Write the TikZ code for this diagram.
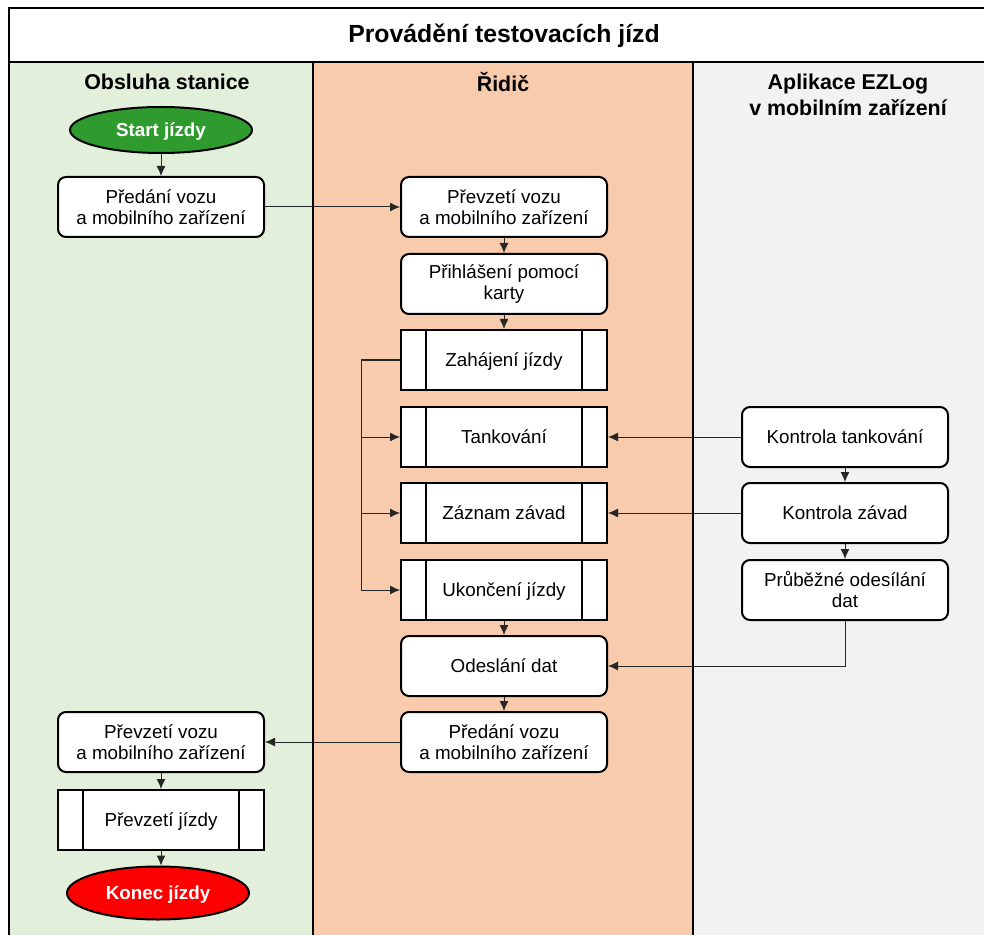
\documentclass[tikz,border=0pt]{standalone}
\usepackage{fontspec}
\setmainfont{Liberation Sans}
\usetikzlibrary{arrows.meta,shapes.geometric}
\definecolor{laneA}{HTML}{E2EFDA}
\definecolor{laneB}{HTML}{F8CBAD}
\definecolor{laneC}{HTML}{F2F2F2}
\definecolor{startgreen}{HTML}{2F9B2F}
\tikzset{
  box/.style={draw=black, line width=1pt, fill=white, rounded corners=4pt,
    minimum width=103pt, minimum height=30pt, align=center,
    font=\fontsize{9.4}{10.5}\selectfont},
  one/.style={text depth=0pt},
  subproc/.style={box, one, rounded corners=0pt},
  terminal/.style={ellipse, one, draw=black, line width=1pt, minimum width=91pt,
    minimum height=23pt, text=white, font=\bfseries\fontsize{9.4}{10.5}\selectfont},
  arr/.style={draw=black!85, line width=0.5pt, -{Latex[length=5pt,width=4.5pt]}},
  head/.style={font=\bfseries\fontsize{10.7}{13}\selectfont, align=center}
}
\begin{document}
\begin{tikzpicture}[x=0.5pt,y=-0.5pt]
\useasboundingbox (0,0) rectangle (984,935);
\begin{scope}
\clip (0,0) rectangle (984,935);
% swimlanes
\fill[laneA] (8.5,62) rectangle (313,1000);
\fill[laneB] (313,62) rectangle (693,1000);
\fill[laneC] (693,62) rectangle (1020,1000);
\draw[line width=1pt] (8.5,8.5) rectangle (1010,1000);
\draw[line width=1pt] (8.5,62) -- (1010,62);
\draw[line width=1pt] (313,62) -- (313,1000);
\draw[line width=1pt] (693,62) -- (693,1000);
\end{scope}
\node[font=\bfseries\fontsize{12.4}{15}\selectfont] (title) at (504,36) {Provádění testovacích jízd};
\node[head] (laneobs) at (167,82) {Obsluha stanice};
\node[head] (laneridic) at (503,82) {Řidič};
\node[head] (laneapp) at (848,95) {Aplikace EZLog\\v mobilním zařízení};

% obsluha stanice
\node[terminal, fill=startgreen] (start) at (161,130) {Start jízdy};
\node[box] (predani) at (161,207) {Předání vozu\\a mobilního zařízení};
\node[box] (prevzeti2) at (161,742) {Převzetí vozu\\a mobilního zařízení};
\node[subproc] (prevjizdy) at (161,820) {Převzetí jízdy};
\node[terminal, fill=red, minimum height=26.5pt] (konec) at (158,893) {Konec jízdy};

% ridic
\node[box] (prevzeti) at (504,207) {Převzetí vozu\\a mobilního zařízení};
\node[box] (prihlaseni) at (504,284) {Přihlášení pomocí\\karty};
\node[subproc] (zahajeni) at (504,360) {Zahájení jízdy};
\node[subproc] (tankovani) at (504,437) {Tankování};
\node[subproc] (zaznam) at (504,513) {Záznam závad};
\node[subproc] (ukonceni) at (504,590) {Ukončení jízdy};
\node[box, one] (odeslani) at (504,666) {Odeslání dat};
\node[box] (predani2) at (504,742) {Předání vozu\\a mobilního zařízení};

% aplikace
\node[box, one] (ktank) at (845,437) {Kontrola tankování};
\node[box, one] (kzavad) at (845,513) {Kontrola závad};
\node[box] (prubezne) at (845,590) {Průběžné odesílání\\dat};

% side bars of the subprocess boxes
\foreach \n in {zahajeni,tankovani,zaznam,ukonceni,prevjizdy}{
  \draw[line width=1pt] ([xshift=13pt]\n.north west) -- ([xshift=13pt]\n.south west);
  \draw[line width=1pt] ([xshift=-13pt]\n.north east) -- ([xshift=-13pt]\n.south east);
}

% connectors
\draw[arr] (start) -- (predani);
\draw[arr] (predani) -- (prevzeti);
\draw[arr] (prevzeti) -- (prihlaseni);
\draw[arr] (prihlaseni) -- (zahajeni);
\coordinate (bus) at ([xshift=-19.5pt]zahajeni.west);
\draw[arr] (zahajeni.west) -- (bus) |- (ukonceni.west);
\draw[arr] (bus |- tankovani.west) -- (tankovani.west);
\draw[arr] (bus |- zaznam.west) -- (zaznam.west);
\draw[arr] (ukonceni) -- (odeslani);
\draw[arr] (odeslani) -- (predani2);
\draw[arr] (ktank) -- (tankovani);
\draw[arr] (kzavad) -- (zaznam);
\draw[arr] (ktank) -- (kzavad);
\draw[arr] (kzavad) -- (prubezne);
\draw[arr] (prubezne.south) |- (odeslani.east);
\draw[arr] (predani2) -- (prevzeti2);
\draw[arr] (prevzeti2) -- (prevjizdy);
\draw[arr] (prevjizdy.south -| prevzeti2.south) -- (konec.north -| prevzeti2.south);
\end{tikzpicture}
\end{document}
